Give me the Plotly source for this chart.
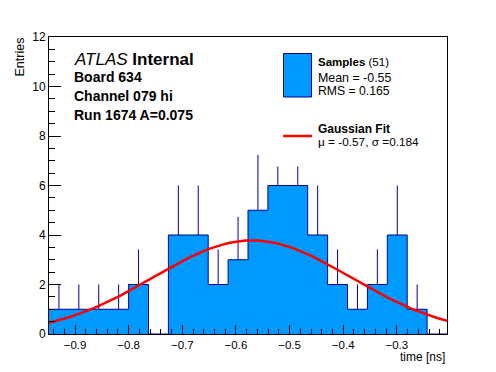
import numpy as np
import plotly.graph_objects as go

# ---------------- data ----------------
bin_low = -0.9485          # lower edge of the first bin
bin_width = 0.0371         # histogram bin width [ns]
counts = [1, 1, 1, 1, 2, 0, 4, 4, 2, 3, 5, 6, 6, 4, 2, 1, 2, 4, 1, 0]
fit_amp = 3.78
fit_mu = -0.57
fit_sigma = 0.184
x_range = [-0.9485, -0.2065]
y_range = [0, 12]

# ---------------- derived ----------------
counts = np.array(counts, dtype=float)
nb = len(counts)
edges = bin_low + bin_width * np.arange(nb + 1)
centers = edges[:-1] + bin_width / 2
errs = np.sqrt(counts)

step_x = edges
step_y = np.append(counts, counts[-1])

fx = np.linspace(x_range[0], x_range[1], 100)
fy = fit_amp * np.exp(-0.5 * ((fx - fit_mu) / fit_sigma) ** 2)

FILL = "#0099ff"
EDGE = "#000099"
FONT = "Liberation Sans, Arial, Helvetica, sans-serif"

OFF = 8                      # page body margin of the html page
W, H = 496 - OFF, 372 - OFF
L, R, T, B = 49 - OFF, 49, 37 - OFF, 38
PW, PH = W - L - R, H - T - B


def px(x):
    return (x - OFF - L) / PW


def py(y):
    return (H + OFF - B - y) / PH


fig = go.Figure()
fig.add_trace(go.Scatter(
    x=step_x, y=step_y, mode="lines", line=dict(shape="hv", color=EDGE, width=1),
    fill="tozeroy", fillcolor=FILL, name="Samples", hoverinfo="skip"))
fig.add_trace(go.Scatter(
    x=centers, y=counts, mode="markers",
    marker=dict(size=1, color="rgba(0,0,0,0)"),
    error_y=dict(type="data", symmetric=False, array=errs, arrayminus=np.zeros(nb),
                 width=0, thickness=1, color=EDGE),
    name="errors", hoverinfo="skip"))
fig.add_trace(go.Scatter(
    x=fx, y=fy, mode="lines", line=dict(color="#ff0000", width=2.5),
    name="Gaussian Fit"))

shapes = [
    # legend background (white, covers what is under it)
    dict(type="rect", xref="paper", yref="paper", x0=px(268), x1=px(444), y0=py(166.5), y1=py(38.5),
         fillcolor="white", line=dict(width=0), layer="above"),
    dict(type="rect", xref="paper", yref="paper", x0=px(283.5), x1=px(311.5), y0=py(97), y1=py(53.5),
         fillcolor=FILL, line=dict(color=EDGE, width=1), layer="above"),
    dict(type="line", xref="paper", yref="paper", x0=px(283), x1=px(312), y0=py(136), y1=py(136),
         line=dict(color="#ff0000", width=2.5), layer="above"),
]


def ann(text, x, y, size, xanchor="left", **kw):
    return dict(text=text, xref="paper", yref="paper", x=px(x), y=py(y), xanchor=xanchor,
                yanchor="middle", showarrow=False, font=dict(family=FONT, size=size, color="black"), **kw)


annotations = [
    ann("<i>ATLAS</i> <b>Internal</b>", 72, 59, 17),
    ann("<b>Board 634</b>", 72, 76.5, 14),
    ann("<b>Channel 079 hi</b>", 72, 96, 14),
    ann("<b>Run 1674 A=0.075</b>", 72, 114.5, 14),
    ann("<b>Samples</b> (51)", 315.5, 62, 11.5),
    ann("Mean = -0.55", 315.5, 78, 12.4),
    ann("RMS = 0.165", 315.5, 90.5, 12.2),
    ann("<b>Gaussian Fit</b>", 315.5, 129.5, 12),
    ann("μ = -0.57, σ =0.184", 315.5, 142, 11.8),
    ann("time [ns]", 447, 356.5, 12, xanchor="right"),
    dict(text="Entries", xref="paper", yref="paper", x=px(20), y=py(36), xanchor="center",
         yanchor="top", textangle=-90, showarrow=False, font=dict(family=FONT, size=12.5, color="black")),
]

fig.update_layout(
    width=W, height=H, margin=dict(l=L, r=R, t=T, b=B, pad=0),
    paper_bgcolor="white", plot_bgcolor="white", showlegend=False,
    font=dict(family=FONT, size=12, color="black"),
    shapes=shapes, annotations=annotations,
    xaxis=dict(range=x_range, dtick=0.1, tick0=0, ticks="inside", ticklen=9, tickwidth=1,
               tickcolor="black", showline=True, linecolor="black", linewidth=1, mirror=True,
               showgrid=False, zeroline=False, tickformat=".1f",
               tickfont=dict(family=FONT, size=11.5),
               minor=dict(dtick=0.02, tick0=0, ticks="inside", ticklen=5, tickcolor="black",
                          showgrid=False)),
    yaxis=dict(range=y_range, dtick=2, tick0=0, ticks="inside", ticklen=12, tickwidth=1,
               tickcolor="black", showline=True, linecolor="black", linewidth=1, mirror=True,
               showgrid=False, zeroline=False, tickfont=dict(family=FONT, size=12),
               minor=dict(dtick=0.5, ticks="inside", ticklen=6, tickcolor="black", showgrid=False)),
)

fig.write_html("out.html")
